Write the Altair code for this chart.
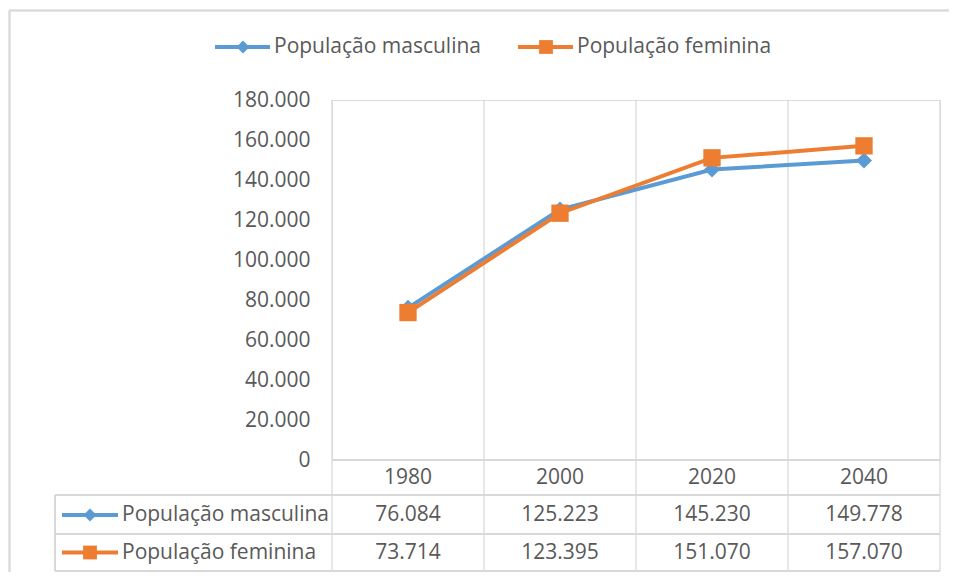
import altair as alt
import pandas as pd

# ---- data ----
years = ["1980", "2000", "2020", "2040"]
masculina = [76084, 125223, 145230, 149778]
feminina = [73714, 123395, 151070, 157070]
series = ["População masculina", "População feminina"]
colors = ["#5B9BD5", "#ED7D31"]
shapes = ["diamond", "square"]
y_ticks = [0, 20000, 40000, 60000, 80000, 100000, 120000, 140000, 160000, 180000]

# ---- styling ----
W, H = 608, 360
RP = 9
FONT = "Open Sans"
FS = 21
TXT = "#595959"
GRID = "#d9d9d9"

rows = []
for s, vals in zip(series, [masculina, feminina]):
    for i, (yr, v) in enumerate(zip(years, vals)):
        rows.append({"serie": s, "ano": yr, "pos": i + 0.5, "valor": v})
df = pd.DataFrame(rows)
years_df = pd.DataFrame({"ano": years, "pos": [i + 0.5 for i in range(len(years))]})
bounds_df = pd.DataFrame({"b": list(range(len(years) + 1))})

xs = alt.Scale(domain=[0, len(years)])
ys = alt.Scale(domain=[0, 180000])
X = alt.X("pos:Q", scale=xs, axis=None)
Y = alt.Y("valor:Q", scale=ys,
          axis=alt.Axis(values=y_ticks, format=",d", domain=False, ticks=False, grid=False,
                        labelPadding=22, labelFont=FONT, labelFontSize=FS, labelColor=TXT,
                        title=None))

layers = []

# frame: top and left edges (right and bottom edges lie outside the picture)
layers.append(alt.Chart(years_df).mark_rule(color=GRID, strokeWidth=1.5).encode(
    x=alt.value(-322.5), x2=alt.value(W + RP), y=alt.value(-89.5)))
layers.append(alt.Chart(years_df).mark_rule(color=GRID, strokeWidth=1.5).encode(
    x=alt.value(-322.5), y=alt.value(-89.5), y2=alt.value(H + 112)))

# vertical grid lines through plot and table
layers.append(alt.Chart(bounds_df).mark_rule(color=GRID, strokeWidth=1.3).encode(
    x=alt.X("b:Q", scale=xs, axis=None), y=alt.value(0), y2=alt.value(471)))

# axis line and table lines
layers.append(alt.Chart(years_df).mark_rule(color=GRID, strokeWidth=1.3).encode(
    x=alt.value(0), x2=alt.value(W), y=alt.value(H)))
for yy in [395, 434, 471]:
    layers.append(alt.Chart(years_df).mark_rule(color=GRID, strokeWidth=1.3).encode(
        x=alt.value(-277), x2=alt.value(W), y=alt.value(yy)))
layers.append(alt.Chart(years_df).mark_rule(color=GRID, strokeWidth=1.3).encode(
    x=alt.value(-277), y=alt.value(395), y2=alt.value(471)))

# series lines & markers
for s, c, sh in zip(series, colors, shapes):
    sub = alt.Chart(df).transform_filter(alt.datum.serie == s)
    layers.append(sub.mark_line(color=c, strokeWidth=4).encode(x=X, y=Y))
    size = 256 if sh == "diamond" else 300
    layers.append(sub.mark_point(shape=sh, filled=True, color=c, size=size, opacity=1).encode(x=X, y=Y))

# year header row
layers.append(alt.Chart(years_df).mark_text(font=FONT, fontSize=FS, color=TXT, baseline="middle").encode(
    x=X, y=alt.value(378), text="ano:N"))

# table rows and top legend
legend_x = [-117, 186]
row_y = [415, 452.5]
for k, (s, c, sh) in enumerate(zip(series, colors, shapes)):
    sub = alt.Chart(df).transform_filter(alt.datum.serie == s)
    layers.append(sub.mark_text(font=FONT, fontSize=FS, color=TXT, baseline="middle").encode(
        x=X, y=alt.value(row_y[k]), text=alt.Text("valor:Q", format=",d")))
    one = alt.Chart(years_df.head(1))
    msize = 170 if sh == "diamond" else 190
    # table row symbol + label
    layers.append(one.mark_rule(color=c, strokeWidth=4).encode(
        x=alt.value(-270), x2=alt.value(-214), y=alt.value(row_y[k])))
    layers.append(one.mark_point(shape=sh, filled=True, color=c, size=msize, opacity=1).encode(
        x=alt.value(-242), y=alt.value(row_y[k])))
    layers.append(one.mark_text(font=FONT, fontSize=FS, color=TXT, align="left", baseline="middle").encode(
        x=alt.value(-210), y=alt.value(row_y[k]), text=alt.value(s)))
    # top legend
    lx = legend_x[k]
    layers.append(one.mark_rule(color=c, strokeWidth=4).encode(
        x=alt.value(lx), x2=alt.value(lx + 55), y=alt.value(-53)))
    layers.append(one.mark_point(shape=sh, filled=True, color=c, size=msize, opacity=1).encode(
        x=alt.value(lx + 28), y=alt.value(-53)))
    layers.append(one.mark_text(font=FONT, fontSize=FS, color=TXT, align="left", baseline="middle").encode(
        x=alt.value(lx + 59), y=alt.value(-53), text=alt.value(s)))

chart = alt.layer(*layers).properties(
    width=W, height=H,
    padding={"left": 324, "top": 92, "right": RP, "bottom": 112},
    autosize=alt.AutoSizeParams(type="none"),
).configure_view(stroke=None).configure(
    locale=alt.Locale(number=alt.NumberLocale(decimal=",", thousands=".", grouping=[3], currency=["R$", ""]))
)

chart.save("out.html", embed_options={"renderer": "svg", "actions": False})
